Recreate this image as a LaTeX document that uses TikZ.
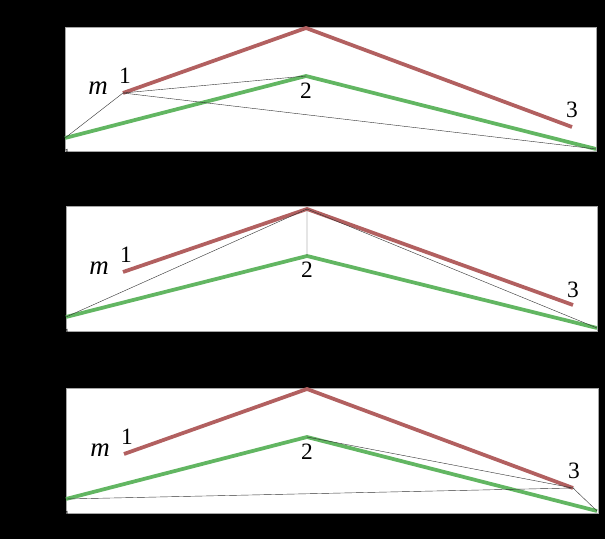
\documentclass[tikz,border=0pt]{standalone}
\usepackage{fontspec}
\setmainfont{Liberation Serif}
\definecolor{rodred}{RGB}{178,96,96}
\definecolor{rodgreen}{RGB}{98,182,98}
\tikzset{
	panel/.style={draw=gray!70, line width=0.6pt, fill=white},
	redrod/.style={draw=rodred, line width=3.2pt, line join=miter},
	greenrod/.style={draw=rodgreen, line width=3.2pt, line join=miter},
	string/.style={draw=black!80, line width=0.35pt},
	lbl/.style={inner sep=0pt, font=\fontsize{20}{20}\selectfont},
	masslbl/.style={inner sep=0pt, font=\fontsize{23}{23}\selectfont\itshape},
	tinylbl/.style={inner sep=0pt, font=\fontsize{8}{8}\selectfont, text=black}
}
\begin{document}
\begin{tikzpicture}[x=0.03cm, y=-0.03cm, transform shape]
	% Background and panels:
	\fill[black] (0,0) rectangle (605,539);
	\useasboundingbox (0,0) rectangle (605,539);
	\path[panel] (65,27) rectangle (596,151);
	\path[panel] (66,206) rectangle (597,331);
	\path[panel] (66,388) rectangle (598,513);
	% Panel 1:
	\coordinate (ar1) at (123,93);
	\coordinate (ar2) at (306,28);
	\coordinate (ar3) at (572,127);
	\coordinate (ag1) at (65,138);
	\coordinate (ag2) at (306,76);
	\coordinate (ag3) at (596,149);
	\draw[redrod] (ar1) -- (ar2) -- (ar3);
	\draw[greenrod] (ag1) -- (ag2) -- (ag3);
	\draw[string] (ag1) -- (ar1) -- (ag2);
	\draw[string] (ar1) -- (ag3);
	\node[masslbl] (am) at (98,88) {m};
	\node[lbl] (aone) at (125,76) {1};
	\node[lbl] (atwo) at (306,91) {2};
	\node[lbl] (athree) at (572,110) {3};
	\node[tinylbl] (aend) at (67,152) {1};
	% Panel 2:
	\coordinate (br1) at (123,272);
	\coordinate (br2) at (307,209);
	\coordinate (br3) at (573,305);
	\coordinate (bg1) at (66,317);
	\coordinate (bg2) at (307,256);
	\coordinate (bg3) at (597,328);
	\draw[redrod] (br1) -- (br2) -- (br3);
	\draw[greenrod] (bg1) -- (bg2) -- (bg3);
	\draw[string] (bg1) -- (br2) -- (bg2);
	\draw[string] (br2) -- (bg3);
	\node[masslbl] (bm) at (99,268) {m};
	\node[lbl] (bone) at (126,255) {1};
	\node[lbl] (btwo) at (307,270) {2};
	\node[lbl] (bthree) at (573,290) {3};
	\node[tinylbl] (bend) at (67,332) {1};
	% Panel 3:
	\coordinate (cr1) at (124,454);
	\coordinate (cr2) at (307,389);
	\coordinate (cr3) at (573,488);
	\coordinate (cg1) at (66,499);
	\coordinate (cg2) at (307,437);
	\coordinate (cg3) at (597,511);
	\draw[redrod] (cr1) -- (cr2) -- (cr3);
	\draw[greenrod] (cg1) -- (cg2) -- (cg3);
	\draw[string] (cg1) -- (cr3) -- (cg2);
	\draw[string] (cr3) -- (cg3);
	\node[masslbl] (cm) at (100,450) {m};
	\node[lbl] (cone) at (127,437) {1};
	\node[lbl] (ctwo) at (307,452) {2};
	\node[lbl] (cthree) at (574,471) {3};
	\node[tinylbl] (cend) at (67,514) {1};
\end{tikzpicture}
\end{document}
